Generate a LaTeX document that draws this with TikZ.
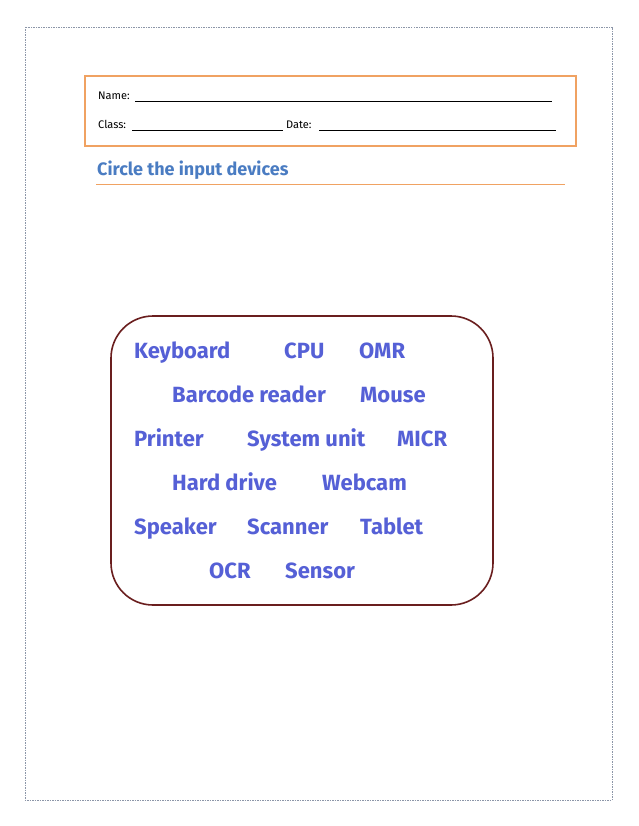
\documentclass[tikz,border=0pt]{standalone}
\usepackage{fontspec}
\setmainfont{Fira Sans}
\definecolor{pageborder}{HTML}{8C96A8}
\definecolor{hdrorange}{HTML}{F0A262}
\definecolor{titleblue}{HTML}{4A7CC2}
\definecolor{wordblue}{HTML}{5560D6}
\definecolor{boxmaroon}{HTML}{6A1E1E}
\tikzset{
  word/.style={anchor=base west, inner sep=0pt, text=wordblue, font=\fontsize{22}{22}\selectfont\bfseries},
  hdr/.style={anchor=base west, inner sep=0pt, font=\fontsize{11}{12}\selectfont},
  blank/.style={line width=0.8pt, black}
}
\begin{document}
\begin{tikzpicture}[x=1pt,y=-1pt]
\useasboundingbox (0,0) rectangle (638,826);
\fill[white] (0,0) rectangle (638,826);
% page border
\draw[pageborder, line width=0.8pt, dash pattern=on 1.5pt off 1pt] (25,27) rectangle (612,800);
% header box
\draw[hdrorange, line width=1.3pt] (85,76) rectangle (576,146);
\node[hdr] (name) at (98,100) {Name:};
\draw[blank] (135,101) -- (552,101);
\node[hdr] (class) at (98,129) {Class:};
\draw[blank] (132,130) -- (283,130);
\node[hdr] (date) at (286,129) {Date:};
\draw[blank] (319,130) -- (556,130);
% title
\node[anchor=base west, inner sep=0pt, text=titleblue, font=\fontsize{18}{18}\selectfont\bfseries] (title) at (97,176) {Circle the input devices};
\draw[hdrorange, line width=1.2pt] (96,184.5) -- (565,184.5);
% word box
\draw[boxmaroon, line width=1.6pt, rounded corners=42pt] (111,316) rectangle (493,605);
% words
\node[word] (w1) at (134,358) {Keyboard};
\node[word] (w2) at (284,358) {CPU};
\node[word] (w3) at (359,358) {OMR};
\node[word] (w4) at (172,402) {Barcode reader};
\node[word] (w5) at (360,402) {Mouse};
\node[word] (w6) at (134,446) {Printer};
\node[word] (w7) at (247,446) {System unit};
\node[word] (w8) at (397,446) {MICR};
\node[word] (w9) at (172,490) {Hard drive};
\node[word] (w10) at (322,490) {Webcam};
\node[word] (w11) at (134,534) {Speaker};
\node[word] (w12) at (247,534) {Scanner};
\node[word] (w13) at (360,534) {Tablet};
\node[word] (w14) at (209,578) {OCR};
\node[word] (w15) at (285,578) {Sensor};
\end{tikzpicture}
\end{document}
